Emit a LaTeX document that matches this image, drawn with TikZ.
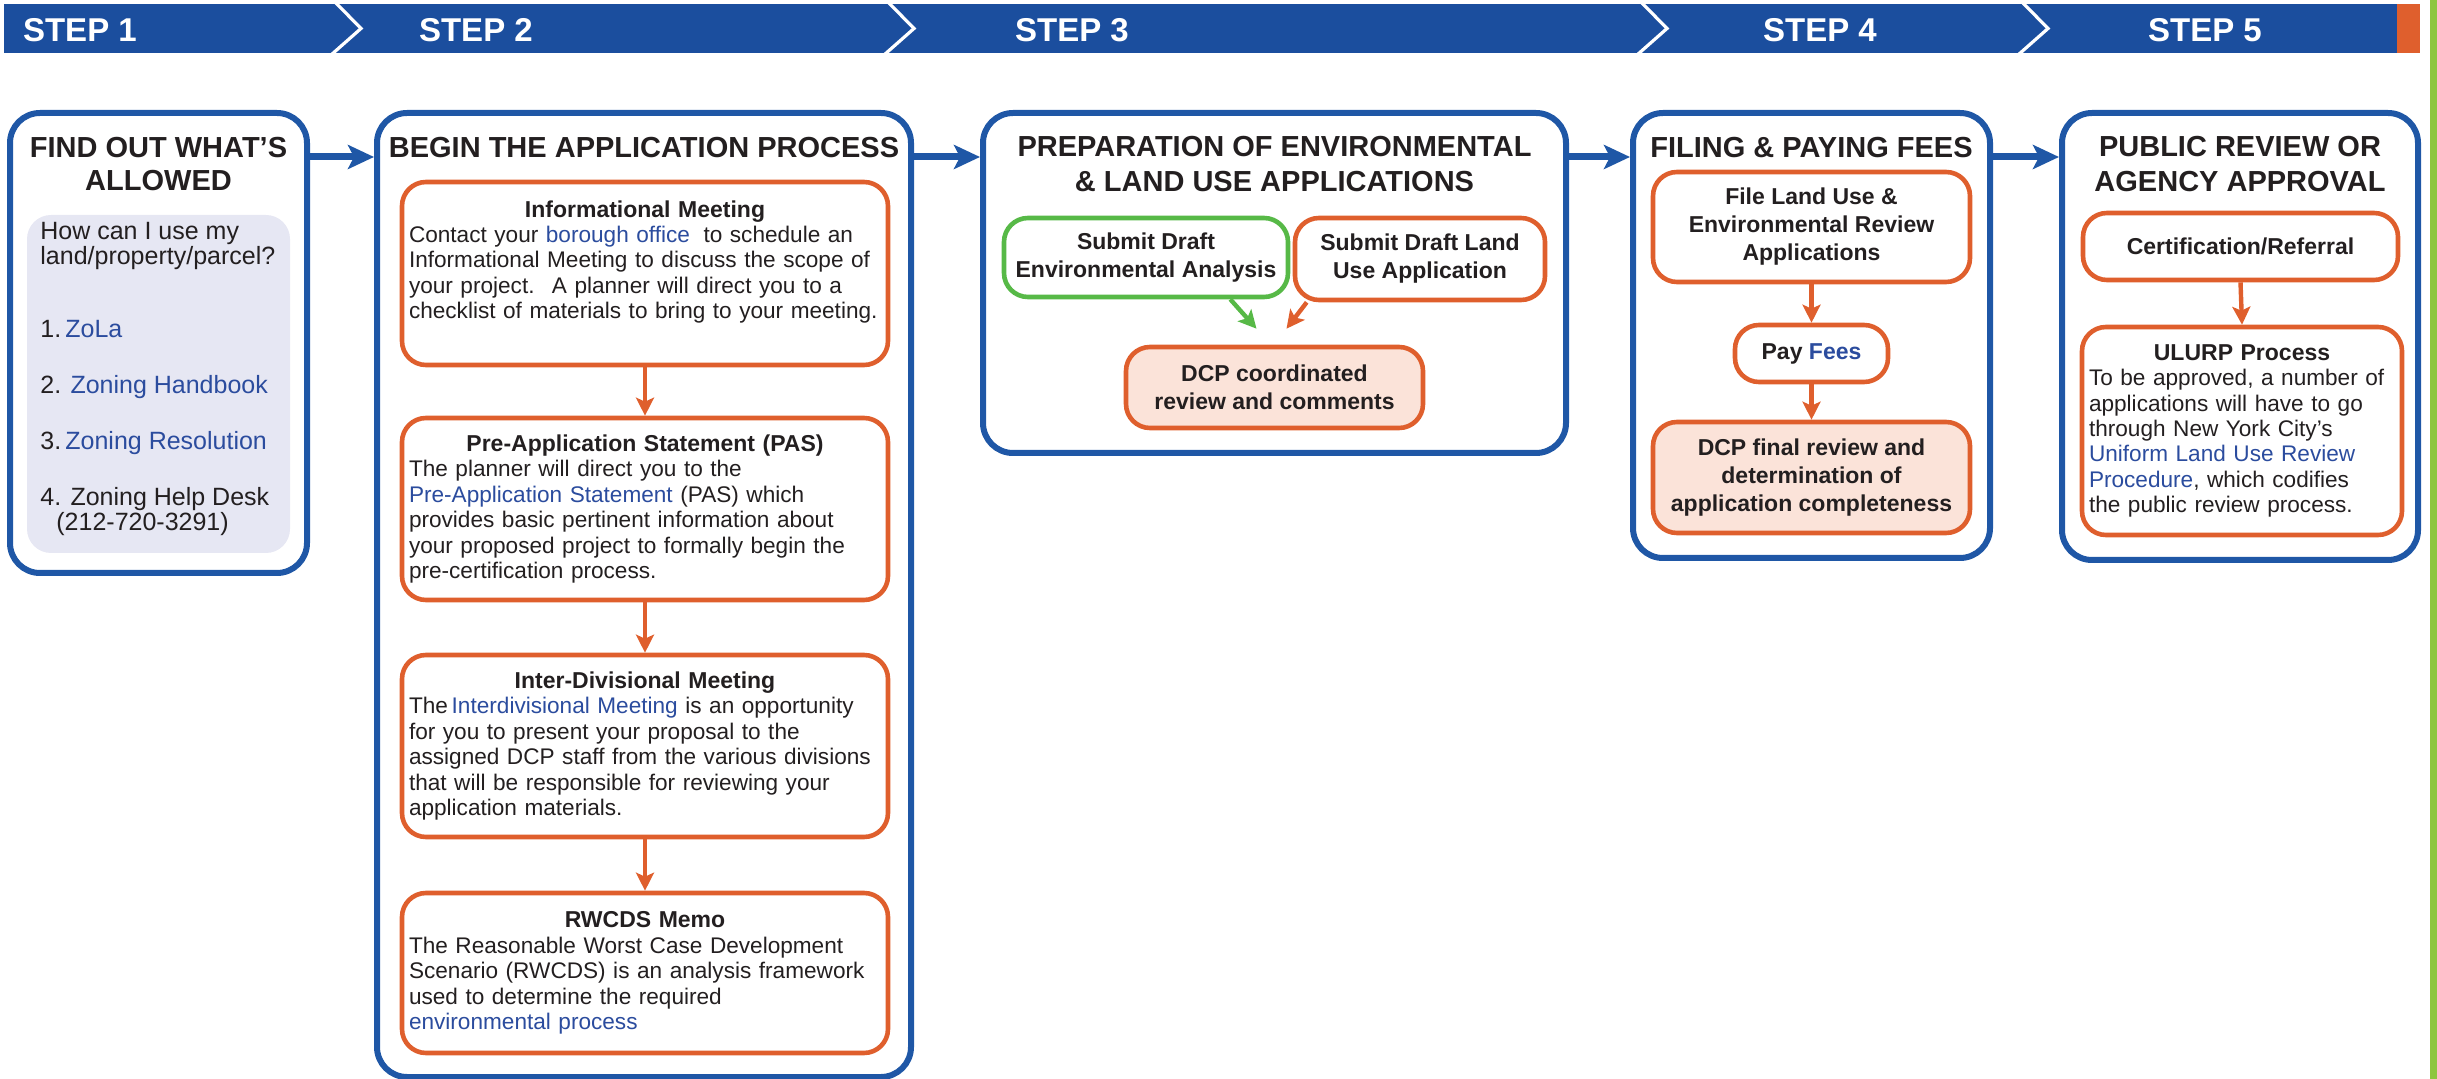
\documentclass[tikz,border=0pt]{standalone}
\usepackage{fontspec}
\setmainfont{Liberation Sans}
\usetikzlibrary{arrows.meta,fit}

\definecolor{bannerblue}{HTML}{1B4E9E}
\definecolor{boxblue}{HTML}{1F57A6}
\definecolor{dcporange}{HTML}{DF5F2D}
\definecolor{dcpgreen}{HTML}{57B947}
\definecolor{dcpsalmon}{HTML}{FBE3D9}
\definecolor{askfill}{HTML}{E6E7F3}
\definecolor{limebar}{HTML}{8DC63F}
\definecolor{textgray}{HTML}{231F20}
\definecolor{linkblue}{HTML}{2B4C9E}

\newcommand\weblink[1]{\textcolor{linkblue}{#1}}
\newcommand\titlefont{\fontsize{14.5}{17.5}\selectfont\bfseries}
\newcommand\bodyfont{\fontsize{11.3}{12.7}\selectfont}
\newcommand\headfont{\fontsize{11.5}{14}\selectfont\bfseries}

\tikzset{
  bigbox/.style={draw=boxblue, line width=3pt, rounded corners=15pt, inner sep=0pt},
  subbox/.style={draw=dcporange, line width=2.3pt, rounded corners=12pt, fill=white,
    align=center, text=textgray, font=\headfont, inner sep=2pt},
  greenbox/.style={subbox, draw=dcpgreen},
  dcpbox/.style={subbox, fill=dcpsalmon},
  textbox/.style={subbox, font=\bodyfont, align=left, text width=#1, inner xsep=3.5pt},
  boxtitle/.style={font=\titlefont, align=center, text=textgray},
  steplabel/.style={anchor=west, text=white, font=\fontsize{16.5}{18}\selectfont\bfseries},
  bluearrow/.style={-{Stealth[length=13pt, width=12pt, inset=3pt]}, draw=boxblue, line width=3.5pt},
  orangearrow/.style={-{Stealth[length=9pt, width=9pt, inset=2pt]}, draw=dcporange, line width=2.2pt},
  greenarrow/.style={orangearrow, draw=dcpgreen}
}

\begin{document}
\begin{tikzpicture}[x=0.5pt, y=-0.5pt]
\useasboundingbox (0,0) rectangle (2437,1079);

% step banner
\fill[bannerblue] (4,4) rectangle (2397,53);
\fill[dcporange] (2397,4) rectangle (2420,53);
\fill[limebar] (2430,0) rectangle (2437,1079);
\foreach \x in {335,888,1641,2022}
  \draw[white, line width=1.6pt] (\x,2) -- (\x+26,28.5) -- (\x-4,55);
\foreach \x/\n in {16/1,412/2,1008/3,1756/4,2141/5}
  \node[steplabel] (step\n) at (\x,30) {STEP \n};

% step 1
\node[bigbox, fit={(10,113) (307,573)}] (find) {};
\node[boxtitle] (findT) at (158.5,164) {FIND OUT WHAT’S\\[-1pt]ALLOWED};
\node[fill=askfill, rounded corners=12pt, inner sep=0pt, fit={(27,215) (290,553)}] (ask) {};
\node[anchor=north west, align=left, inner sep=0pt, text=textgray,
  font=\fontsize{12.5}{12.5}\selectfont] (askT) at (40,222)
  {How can I use my\\land/property/parcel?\\[24pt]
   1.\,\weblink{ZoLa}\\[15.5pt]
   2. \weblink{Zoning Handbook}\\[15.5pt]
   3.\,\weblink{Zoning Resolution}\\[15.5pt]
   4. Zoning Help Desk\\\hspace*{8pt}(212-720-3291)};

% step 2
\node[bigbox, fit={(377,113) (911,1077)}] (begin) {};
\node[boxtitle] (beginT) at (644,148) {BEGIN THE APPLICATION PROCESS};
\node[textbox=236pt, minimum height=91.5pt] (info) at (645,273.5)
  {{\headfont\centering Informational Meeting\par}
   Contact your \weblink{borough office}\hspace{3pt} to schedule an\\
   Informational Meeting to discuss the scope of\\
   your project.\hspace{3pt} A planner will direct you to a\\
   checklist of materials to bring to your meeting.\rule[-14pt]{0pt}{14pt}};
\node[textbox=236pt, minimum height=91pt] (pas) at (645,509)
  {{\headfont\centering Pre-Application Statement (PAS)\par}
   The planner will direct you to the\\
   \weblink{Pre-Application Statement} (PAS) which\\
   provides basic pertinent information about\\
   your proposed project to formally begin the\\
   pre-certification process.};
\node[textbox=236pt, minimum height=91pt] (inter) at (645,746)
  {{\headfont\centering Inter-Divisional Meeting\par}
   The\,\weblink{Interdivisional Meeting} is an opportunity\\
   for you to present your proposal to the\\
   assigned DCP staff from the various divisions\\
   that will be responsible for reviewing your\\
   application materials.};
\node[textbox=236pt, minimum height=80pt] (rwcds) at (645,973)
  {{\headfont\centering RWCDS Memo\par}
   The Reasonable Worst Case Development\\
   Scenario (RWCDS) is an analysis framework\\
   used to determine the required\\
   \weblink{environmental process}};
\draw[orangearrow] (info.south) -- (pas.north);
\draw[orangearrow] (pas.south) -- (inter.north);
\draw[orangearrow] (inter.south) -- (rwcds.north);

% step 3
\node[bigbox, fit={(983,113) (1566,453)}] (prep) {};
\node[boxtitle] (prepT) at (1274.5,164) {PREPARATION OF ENVIRONMENTAL\\\& LAND USE APPLICATIONS};
\node[greenbox, minimum width=142pt, minimum height=39.5pt] (envdraft) at (1146,257.5)
  {Submit Draft\\Environmental Analysis};
\node[subbox, minimum width=125pt, minimum height=41pt] (landuse) at (1420,259)
  {Submit Draft Land\\Use Application};
\node[dcpbox, minimum width=148.5pt, minimum height=40.5pt] (dcpreview) at (1274.5,387.5)
  {DCP coordinated\\review and comments};
\draw[greenarrow] ([xshift=-30pt]envdraft.south east) -- ([xshift=-9pt,yshift=8pt]dcpreview.north);
\draw[orangearrow] ([xshift=7pt]landuse.south west) -- ([xshift=6pt,yshift=8pt]dcpreview.north);

% step 4
\node[bigbox, fit={(1633,113) (1990,558)}] (filing) {};
\node[boxtitle] (filingT) at (1811.5,148) {FILING \& PAYING FEES};
\node[subbox, minimum width=158.5pt, minimum height=55pt] (filelu) at (1811.5,227)
  {File Land Use \&\\Environmental Review\\Applications};
\node[subbox, minimum width=76.5pt, minimum height=28.5pt] (pay) at (1811.5,353.5)
  {Pay \weblink{Fees}};
\node[dcpbox, minimum width=158.5pt, minimum height=55.5pt] (final) at (1811.5,477.5)
  {DCP final review and\\determination of\\application completeness};
\draw[orangearrow] (filelu.south) -- (pay.north);
\draw[orangearrow] (pay.south) -- (final.north);

% step 5
\node[bigbox, fit={(2062,113) (2418,560)}] (public) {};
\node[boxtitle] (publicT) at (2240,164.5) {PUBLIC REVIEW OR\\AGENCY APPROVAL};
\node[subbox, minimum width=157.5pt, minimum height=33.5pt] (cert) at (2240.5,246.5)
  {Certification/Referral};
\node[textbox=153pt, minimum height=104pt] (ulurp) at (2242,431)
  {{\headfont\centering ULURP Process\par}
   To be approved, a number of\\
   applications will have to go\\
   through New York City’s\\
   \weblink{Uniform Land Use Review}\\
   \weblink{Procedure}, which codifies\\
   the public review process.};
\draw[orangearrow] (cert.south) -- (ulurp.north);

% blue flow between steps
\coordinate (flowy) at (0,157);
\foreach \a/\b in {find/begin,begin/prep,prep/filing,filing/public}
  \draw[bluearrow] (\a.east |- flowy) -- (\b.west |- flowy);
\end{tikzpicture}
\end{document}
